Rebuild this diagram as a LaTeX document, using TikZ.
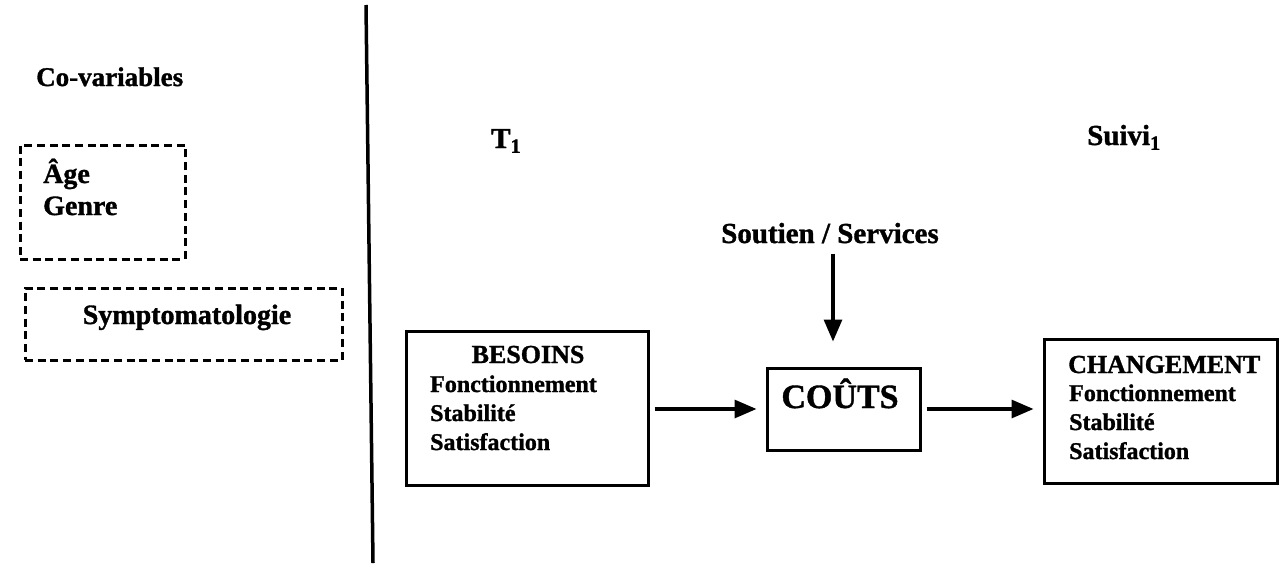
\documentclass[tikz,border=0pt]{standalone}
\usepackage{fontspec}
\setmainfont{Liberation Serif}[BoldFeatures={FakeBold=1.2}]
\usetikzlibrary{arrows.meta}

\tikzset{
  lbl/.style={inner sep=0pt, font=\bfseries\fontsize{#1}{#1}\selectfont},
  lbl/.default=24,
  solidbox/.style={draw, line width=3pt, inner sep=0pt},
  dashbox/.style={draw, line width=3pt, dash pattern=on 8pt off 4.7pt, inner sep=0pt},
  flow/.style={line width=3.2pt, -{Triangle[length=22pt,width=18pt]}},
}

\begin{document}
\begin{tikzpicture}[x=1pt, y=-1pt]
  \useasboundingbox (0,0) rectangle (1282,563);

  % separator between co-variables and the model
  \coordinate (septop) at (366,5);
  \coordinate (sepbot) at (373,563);
  \draw[line width=3.5pt] (septop) -- (sepbot);

  % left column: co-variables
  \node[lbl=27, anchor=base west] (cov) at (36,86) {Co-variables};

  \node[dashbox, minimum width=165pt, minimum height=114pt] (covbox) at (102.5,202) {};
  \node[lbl=28, anchor=base west] (age) at (43,183) {Âge};
  \node[lbl=28, anchor=base west] (genre) at (43,215) {Genre};

  \node[dashbox, minimum width=317pt, minimum height=72pt] (symbox) at (183.5,324) {};
  \node[lbl=28, anchor=base] (sym) at (187,324) {Symptomatologie};

  % time points
  \node[lbl=29, anchor=base west] (t1) at (491,148) {T\textsubscript{1}};
  \node[lbl=29, anchor=base west] (suivi) at (1087,145) {Suivi\textsubscript{1}};

  % model boxes
  \node[solidbox, minimum width=242pt, minimum height=154pt] (besoins) at (527,408) {};
  \node[lbl=26, anchor=base] (besT) at (528,363) {BESOINS};
  \node[lbl=24, anchor=base west] (besA) at (430,392) {Fonctionnement};
  \node[lbl=24, anchor=base west] (besB) at (430,421) {Stabilité};
  \node[lbl=24, anchor=base west] (besC) at (430,450) {Satisfaction};

  \node[solidbox, minimum width=153pt, minimum height=82pt] (couts) at (843.5,409) {};
  \node[lbl=34, anchor=base] (coutsT) at (840,408) {COÛTS};

  \node[solidbox, minimum width=233pt, minimum height=144pt] (chg) at (1160.5,411) {};
  \node[lbl=26, anchor=base west] (chgT) at (1068,373) {CHANGEMENT};
  \node[lbl=24, anchor=base west] (chgA) at (1069,401) {Fonctionnement};
  \node[lbl=24, anchor=base west] (chgB) at (1069,430) {Stabilité};
  \node[lbl=24, anchor=base west] (chgC) at (1069,459) {Satisfaction};

  % support input
  \node[lbl=29, anchor=base] (soutien) at (830,243) {Soutien / Services};
  \coordinate (arrx) at (833,0);

  % connectors
  \draw[flow] ([yshift=-10pt]soutien.south -| arrx) -- ([yshift=25pt]couts.north -| arrx);
  \draw[flow] ([xshift=5pt]besoins.east |- couts.west) -- ([xshift=-9pt]couts.west);
  \draw[flow] ([xshift=5pt]couts.east) -- ([xshift=-9pt]chg.west |- couts.east);
\end{tikzpicture}
\end{document}
